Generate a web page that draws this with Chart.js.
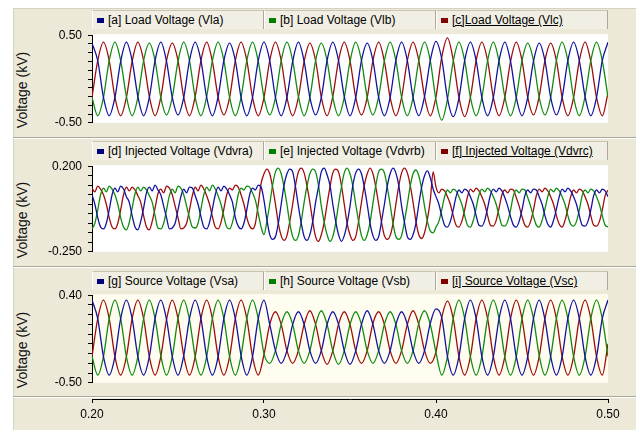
<!DOCTYPE html>
<html>
<head>
<meta charset="utf-8">
<script src="https://cdn.jsdelivr.net/npm/chart.js@4.4.1/dist/chart.umd.min.js"></script>
<style>
  body { margin: 0; width: 636px; height: 430px; position: relative; overflow: hidden; background: #fff;
         font-family: "Liberation Sans", Arial, sans-serif; }
  .frame { position: absolute; left: 13px; top: 8px; right: 0; bottom: 0; background: #ece9d8;
           border-top: 1px solid #d6d2c2; border-left: 1px solid #d6d2c2; box-sizing: border-box; }
  .sep { position: absolute; left: 13px; right: 0; height: 1px; background: #aca899; }
  .sep.w { background: #fff; }
  canvas { position: absolute; left: 13px; }
  .hdr { position: absolute; left: 92px; width: 516px; display: flex; }
  .hdr div { flex: 1; box-sizing: border-box; background: #f1efe4; border-top: 1px solid #c9c5b3;
             border-right: 1px solid #aca899; border-left: 1px solid #fff; font-size: 12px; color: #000;
             white-space: nowrap; overflow: hidden; padding-left: 4px; display: flex; align-items: center; }
  .hdr div span.sw { display: inline-block; width: 7px; height: 5px; margin-right: 4px; }
  .hdr div.sel span.tx { text-decoration: underline; }
  .ytitle { position: absolute; left: 21.5px; font-size: 14px; color: #111; white-space: nowrap;
            transform: translate(-50%, -50%) rotate(-90deg); }
</style>
</head>
<body>
<div class="frame"></div>
<div class="sep" style="top:137px"></div><div class="sep w" style="top:138px"></div>
<div class="sep" style="top:266px"></div><div class="sep w" style="top:267px"></div>
<div class="sep" style="top:396px"></div><div class="sep w" style="top:397px"></div>

<div class="hdr" id="hdr1" style="top:10px;height:19px"></div>
<div class="hdr" id="hdr2" style="top:141px;height:19px"></div>
<div class="hdr" id="hdr3" style="top:271px;height:19px"></div>

<div class="ytitle" style="top:90px">Voltage (kV)</div>
<div class="ytitle" style="top:220px">Voltage (kV)</div>
<div class="ytitle" style="top:350px">Voltage (kV)</div>

<canvas id="c1" width="623" height="114" style="top:22px"></canvas>
<canvas id="c2" width="623" height="112" style="top:153px"></canvas>
<canvas id="c3" width="623" height="114" style="top:282px"></canvas>
<canvas id="cx" width="623" height="36" style="top:394px"></canvas>

<script>
// sample instants: 60 deg steps (load / source), 30 deg steps (injected), 50 Hz
const times60 = Array.from({ length: 91 }, (_, i) => 0.2 + i * 0.02 / 6);
const times30 = Array.from({ length: 181 }, (_, i) => 0.2 + i * 0.02 / 12);

const loadLabels = ['[a] Load Voltage (Vla)', '[b] Load Voltage (Vlb)', '[c]Load Voltage (Vlc)'];
const injLabels = ['[d] Injected Voltage (Vdvra)', '[e] Injected Voltage (Vdvrb)', '[f] Injected Voltage (Vdvrc)'];
const srcLabels = ['[g] Source Voltage (Vsa)', '[h] Source Voltage (Vsb)', '[i] Source Voltage (Vsc)'];

const timeTicks = [0.20, 0.30, 0.40, 0.50];

// load voltage (kV)
const loadVa = [
  0.41, 0.21, -0.21, -0.42, -0.21, 0.20,  0.42, 0.21, -0.20, -0.42, -0.21, 0.21,
  0.42, 0.20, -0.21, -0.41, -0.21, 0.21,  0.42, 0.21, -0.21, -0.42, -0.20, 0.21,
  0.41, 0.21, -0.21, -0.42, -0.21, 0.21,  0.42, 0.21, -0.21, -0.42, -0.21, 0.20,
  0.42, 0.20, -0.21, -0.41, -0.21, 0.21,  0.42, 0.21, -0.20, -0.42, -0.21, 0.21,
  0.41, 0.21, -0.21, -0.42, -0.21, 0.21,  0.42, 0.21, -0.21, -0.42, -0.20, 0.21,
  0.43, 0.23, -0.22, -0.43, -0.22, 0.21,  0.42, 0.21, -0.21, -0.42, -0.21, 0.21,
  0.42, 0.20, -0.21, -0.42, -0.21, 0.20,  0.41, 0.21, -0.21, -0.41, -0.21, 0.21,
  0.42, 0.21, -0.20, -0.42, -0.21, 0.21,  0.42
];
const loadVb = [
  -0.21, -0.42, -0.21, 0.21, 0.42, 0.21,  -0.20, -0.42, -0.21, 0.21, 0.41, 0.21,
  -0.21, -0.41, -0.21, 0.20, 0.42, 0.21,  -0.21, -0.42, -0.20, 0.21, 0.42, 0.21,
  -0.21, -0.42, -0.21, 0.21, 0.42, 0.20,  -0.21, -0.41, -0.21, 0.21, 0.42, 0.21,
  -0.20, -0.42, -0.21, 0.21, 0.41, 0.21,  -0.21, -0.42, -0.21, 0.20, 0.42, 0.21,
  -0.21, -0.41, -0.20, 0.21, 0.42, 0.21,  -0.21, -0.42, -0.21, 0.21, 0.42, 0.21,
  -0.24, -0.47, -0.23, 0.20, 0.42, 0.21,  -0.21, -0.42, -0.21, 0.21, 0.42, 0.20,
  -0.20, -0.42, -0.21, 0.21, 0.41, 0.21,  -0.21, -0.41, -0.21, 0.21, 0.42, 0.21,
  -0.21, -0.42, -0.20, 0.21, 0.42, 0.21,  -0.21
];
const loadVc = [
  -0.21, 0.21, 0.42, 0.21, -0.21, -0.42,  -0.21, 0.20, 0.42, 0.21, -0.20, -0.42,
  -0.21, 0.21, 0.41, 0.21, -0.21, -0.42,  -0.20, 0.21, 0.42, 0.20, -0.21, -0.41,
  -0.21, 0.21, 0.42, 0.21, -0.21, -0.42,  -0.21, 0.21, 0.42, 0.21, -0.21, -0.42,
  -0.21, 0.20, 0.41, 0.21, -0.21, -0.42,  -0.20, 0.21, 0.42, 0.21, -0.21, -0.41,
  -0.21, 0.21, 0.42, 0.20, -0.21, -0.42,  -0.21, 0.21, 0.42, 0.21, -0.20, -0.42,
  -0.20, 0.25, 0.47, 0.22, -0.21, -0.43,  -0.21, 0.21, 0.42, 0.21, -0.21, -0.42,
  -0.21, 0.20, 0.42, 0.21, -0.21, -0.41,  -0.20, 0.21, 0.41, 0.21, -0.21, -0.42,
  -0.21, 0.21, 0.42, 0.20, -0.21, -0.42,  -0.16
];

// injected voltage (kV)
const injVa = [
  0.05, 0.00, -0.07, -0.12, -0.13, -0.10, -0.03, 0.05, 0.085, 0.065, 0.095, 0.08,
  0.04, 0.01, -0.06, -0.12, -0.135, -0.09, -0.02, 0.06, 0.09, 0.07, 0.10, 0.075,
  0.05, -0.01, -0.07, -0.13, -0.125, -0.10, -0.03, 0.04, 0.08, 0.06, 0.09, 0.085,
  0.045, 0.00, -0.065, -0.12, -0.13, -0.095, -0.025, 0.05, 0.09, 0.07, 0.095, 0.08,
  0.05, 0.01, -0.07, -0.115, -0.13, -0.10, -0.03, 0.05, 0.085, 0.075, 0.10, 0.09,
  0.02, -0.08, -0.16, -0.185, -0.17, -0.10, 0.00, 0.10, 0.16, 0.185, 0.17, 0.09,
  -0.01, -0.10, -0.17, -0.19, -0.16, -0.09, 0.01, 0.09, 0.17, 0.19, 0.155, 0.10,
  0.00, -0.09, -0.16, -0.195, -0.165, -0.10, -0.01, 0.10, 0.165, 0.185, 0.16, 0.09,
  0.00, -0.10, -0.165, -0.19, -0.17, -0.09, 0.00, 0.095, 0.16, 0.19, 0.165, 0.10,
  -0.01, -0.095, -0.17, -0.185, -0.16, -0.10, 0.00, 0.09, 0.15, 0.175, 0.14, 0.08,
  0.04, 0.00, -0.06, -0.11, -0.12, -0.09, -0.03, 0.04, 0.075, 0.06, 0.08, 0.07,
  0.04, 0.00, -0.06, -0.11, -0.115, -0.085, -0.02, 0.05, 0.08, 0.065, 0.085, 0.07,
  0.035, -0.01, -0.065, -0.11, -0.12, -0.09, -0.03, 0.045, 0.075, 0.06, 0.08, 0.075,
  0.04, 0.00, -0.06, -0.105, -0.12, -0.085, -0.025, 0.04, 0.08, 0.065, 0.085, 0.07,
  0.04, 0.00, -0.06, -0.11, -0.115, -0.09, -0.03, 0.045, 0.075, 0.06, 0.08, 0.07,
  0.04
];
const injVb = [
  -0.13, -0.10, -0.03, 0.05, 0.085, 0.065, 0.095, 0.08, 0.05, 0.00, -0.07, -0.12,
  -0.135, -0.095, -0.02, 0.055, 0.09, 0.07, 0.09, 0.075, 0.045, 0.01, -0.06, -0.125,
  -0.13, -0.10, -0.03, 0.045, 0.08, 0.06, 0.095, 0.085, 0.05, -0.01, -0.07, -0.12,
  -0.125, -0.10, -0.025, 0.05, 0.09, 0.07, 0.10, 0.08, 0.045, 0.00, -0.065, -0.12,
  -0.13, -0.095, -0.03, 0.05, 0.085, 0.075, 0.095, 0.09, 0.06, 0.02, -0.05, -0.12,
  -0.16, -0.09, 0.00, 0.10, 0.17, 0.19, 0.16, 0.09, 0.00, -0.10, -0.17, -0.19,
  -0.165, -0.09, 0.01, 0.095, 0.16, 0.185, 0.17, 0.10, -0.01, -0.095, -0.16, -0.195,
  -0.17, -0.10, 0.00, 0.09, 0.165, 0.19, 0.16, 0.095, 0.00, -0.09, -0.165, -0.19,
  -0.16, -0.095, 0.005, 0.10, 0.17, 0.185, 0.165, 0.09, 0.00, -0.10, -0.17, -0.185,
  -0.165, -0.09, 0.00, 0.095, 0.16, 0.18, 0.15, 0.08, -0.01, -0.09, -0.14, -0.15,
  -0.12, -0.09, -0.03, 0.04, 0.075, 0.06, 0.08, 0.07, 0.04, 0.00, -0.06, -0.11,
  -0.12, -0.085, -0.02, 0.05, 0.08, 0.065, 0.085, 0.07, 0.04, 0.00, -0.06, -0.11,
  -0.115, -0.09, -0.03, 0.045, 0.075, 0.06, 0.08, 0.075, 0.035, -0.01, -0.065, -0.11,
  -0.12, -0.085, -0.025, 0.04, 0.08, 0.065, 0.085, 0.07, 0.04, 0.00, -0.06, -0.105,
  -0.115, -0.09, -0.03, 0.045, 0.075, 0.06, 0.08, 0.07, 0.04, 0.00, -0.06, -0.11,
  -0.12
];
const injVc = [
  0.085, 0.065, 0.095, 0.08, 0.05, 0.00, -0.07, -0.12, -0.13, -0.10, -0.03, 0.05,
  0.09, 0.07, 0.09, 0.075, 0.045, 0.01, -0.06, -0.12, -0.135, -0.09, -0.02, 0.055,
  0.08, 0.06, 0.095, 0.085, 0.05, -0.01, -0.07, -0.13, -0.125, -0.10, -0.03, 0.045,
  0.09, 0.07, 0.10, 0.08, 0.045, 0.00, -0.065, -0.12, -0.13, -0.095, -0.025, 0.05,
  0.085, 0.075, 0.10, 0.09, 0.05, 0.00, -0.07, -0.115, -0.13, -0.10, 0.00, 0.11,
  0.16, 0.185, 0.16, 0.09, 0.00, -0.10, -0.165, -0.19, -0.165, -0.09, 0.00, 0.10,
  0.17, 0.19, 0.165, 0.095, 0.01, -0.09, -0.17, -0.195, -0.16, -0.095, 0.00, 0.09,
  0.165, 0.185, 0.17, 0.10, 0.00, -0.10, -0.16, -0.19, -0.17, -0.09, 0.01, 0.10,
  0.16, 0.19, 0.16, 0.09, 0.00, -0.095, -0.165, -0.185, -0.165, -0.10, 0.00, 0.095,
  0.165, 0.19, 0.165, 0.10, 0.01, -0.09, -0.16, -0.18, -0.15, -0.08, 0.02, 0.17,
  0.09, 0.06, 0.08, 0.07, 0.04, 0.00, -0.06, -0.11, -0.12, -0.09, -0.03, 0.04,
  0.08, 0.065, 0.085, 0.07, 0.04, 0.00, -0.06, -0.11, -0.115, -0.085, -0.02, 0.05,
  0.075, 0.06, 0.08, 0.075, 0.035, -0.01, -0.065, -0.11, -0.12, -0.09, -0.03, 0.045,
  0.08, 0.065, 0.085, 0.07, 0.04, 0.00, -0.06, -0.105, -0.12, -0.085, -0.025, 0.04,
  0.075, 0.06, 0.08, 0.07, 0.04, 0.00, -0.06, -0.11, -0.115, -0.09, -0.03, 0.045,
  0.075
];

// source voltage (kV)
const srcVa = [
  0.35, 0.16, -0.23, -0.42, -0.23, 0.16,  0.35, 0.16, -0.23, -0.42, -0.23, 0.16,
  0.35, 0.15, -0.23, -0.42, -0.22, 0.16,  0.35, 0.16, -0.23, -0.42, -0.23, 0.16,
  0.35, 0.16, -0.22, -0.42, -0.23, 0.16,  0.35, 0.10, -0.17, -0.30, -0.17, 0.10,
  0.23, 0.10, -0.17, -0.30, -0.17, 0.10,  0.23, 0.10, -0.17, -0.31, -0.17, 0.10,
  0.24, 0.10, -0.17, -0.30, -0.17, 0.10,  0.23, 0.10, -0.17, -0.30, -0.17, 0.11,
  0.26, 0.17, -0.23, -0.42, -0.23, 0.16,  0.35, 0.16, -0.23, -0.42, -0.23, 0.16,
  0.35, 0.16, -0.23, -0.42, -0.23, 0.16,  0.35, 0.15, -0.23, -0.42, -0.23, 0.16,
  0.35, 0.16, -0.23, -0.42, -0.23, 0.16,  0.35
];
const srcVb = [
  -0.23, -0.42, -0.23, 0.16, 0.35, 0.16,  -0.23, -0.42, -0.23, 0.16, 0.35, 0.16,
  -0.22, -0.42, -0.23, 0.16, 0.35, 0.15,  -0.23, -0.42, -0.23, 0.16, 0.35, 0.16,
  -0.23, -0.42, -0.22, 0.16, 0.35, 0.16,  -0.20, -0.30, -0.17, 0.10, 0.23, 0.10,
  -0.17, -0.30, -0.17, 0.10, 0.24, 0.10,  -0.17, -0.31, -0.17, 0.10, 0.23, 0.10,
  -0.17, -0.30, -0.17, 0.10, 0.23, 0.10,  -0.17, -0.30, -0.17, 0.11, 0.24, 0.10,
  -0.19, -0.42, -0.23, 0.16, 0.35, 0.16,  -0.23, -0.42, -0.23, 0.16, 0.35, 0.16,
  -0.23, -0.42, -0.23, 0.16, 0.35, 0.16,  -0.22, -0.42, -0.23, 0.16, 0.35, 0.16,
  -0.23, -0.42, -0.23, 0.16, 0.35, 0.16,  -0.23
];
const srcVc = [
  -0.23, 0.16, 0.35, 0.16, -0.23, -0.42,  -0.23, 0.16, 0.35, 0.16, -0.23, -0.42,
  -0.23, 0.15, 0.35, 0.16, -0.22, -0.42,  -0.23, 0.16, 0.35, 0.16, -0.23, -0.42,
  -0.23, 0.16, 0.35, 0.16, -0.23, -0.42,  -0.21, 0.10, 0.23, 0.10, -0.17, -0.30,
  -0.17, 0.10, 0.24, 0.10, -0.17, -0.31,  -0.17, 0.10, 0.23, 0.10, -0.17, -0.30,
  -0.17, 0.11, 0.23, 0.10, -0.17, -0.30,  -0.17, 0.10, 0.24, 0.10, -0.17, -0.30,
  -0.18, 0.17, 0.34, 0.16, -0.23, -0.42,  -0.23, 0.16, 0.35, 0.16, -0.23, -0.42,
  -0.23, 0.16, 0.35, 0.16, -0.23, -0.42,  -0.23, 0.16, 0.35, 0.16, -0.23, -0.42,
  -0.23, 0.16, 0.35, 0.16, -0.23, -0.42,  -0.10
];

const lineColors = ['#1212a0', '#0f8c0f', '#a00c0c'];
const swatchColors = ['#000080', '#008000', '#800000'];
const font = { family: 'Liberation Sans', size: 12 };

function buildHeader(id, labels) {
  const el = document.getElementById(id);
  labels.forEach((txt, k) => {
    const cell = document.createElement('div');
    if (k === 2) cell.className = 'sel';
    cell.innerHTML = '<span class="sw" style="background:' + swatchColors[k] + '"></span><span class="tx"></span>';
    cell.querySelector('.tx').textContent = txt;
    el.appendChild(cell);
  });
}
buildHeader('hdr1', loadLabels);
buildHeader('hdr2', injLabels);
buildHeader('hdr3', srcLabels);

const plotBg = {
  id: 'plotBg',
  beforeDraw(chart, args, opts) {
    const { ctx, chartArea: a } = chart;
    ctx.save();
    ctx.fillStyle = opts.color;
    ctx.fillRect(a.left, a.top - 1, a.right - a.left, a.bottom - a.top + 1);
    ctx.restore();
  }
};

function series(times, labels, values) {
  return values.map((vals, k) => ({
    label: labels[k],
    data: times.map((t, i) => ({ x: t, y: vals[i] })),
    borderColor: lineColors[k],
    borderWidth: 1.3,
    pointRadius: 0,
    cubicInterpolationMode: 'monotone',
    fill: false
  }));
}

function panel(id, datasets, yMin, yMax, step, digits, bg) {
  return new Chart(document.getElementById(id), {
    type: 'line',
    data: { datasets },
    plugins: [plotBg],
    options: {
      responsive: false,
      animation: false,
      devicePixelRatio: 1,
      layout: { padding: { top: 8, bottom: 8, left: 0, right: 28 } },
      plugins: { legend: { display: false }, tooltip: { enabled: false }, plotBg: { color: bg } },
      scales: {
        x: { type: 'linear', display: false, min: 0.2, max: 0.5 },
        y: {
          min: yMin, max: yMax,
          afterFit: s => { s.width = 79; },
          ticks: {
            stepSize: step, autoSkip: false, padding: 6, color: '#000', font,
            callback: (v, i, t) => (i === 0 || i === t.length - 1) ? v.toFixed(digits) : ''
          },
          grid: { drawOnChartArea: false, drawTicks: true, tickLength: 4, color: '#000' },
          border: { display: true, color: '#000' }
        }
      }
    }
  });
}

panel('c1', series(times60, loadLabels, [loadVa, loadVb, loadVc]), -0.5, 0.5, 0.1, 2, '#ffffff');
panel('c2', series(times30, injLabels, [injVa, injVb, injVc]), -0.25, 0.2, 0.05, 3, '#ffffff');
panel('c3', series(times60, srcLabels, [srcVa, srcVb, srcVc]), -0.5, 0.4, 0.1, 2, '#fffcf0');

// shared time axis
new Chart(document.getElementById('cx'), {
  type: 'line',
  data: { datasets: [] },
  options: {
    responsive: false,
    animation: false,
    devicePixelRatio: 1,
    layout: { padding: { top: 0, bottom: 0, left: 79, right: 28 } },
    plugins: { legend: { display: false }, tooltip: { enabled: false } },
    scales: {
      x: {
        type: 'linear', min: timeTicks[0], max: timeTicks[timeTicks.length - 1],
        afterFit: s => { s.height = 31; },
        afterBuildTicks: s => { s.ticks = timeTicks.map(v => ({ value: v })); },
        ticks: { autoSkip: false, padding: 4, color: '#000', font, callback: v => v.toFixed(2) },
        grid: { drawOnChartArea: false, drawTicks: true, tickLength: 4, color: '#000' },
        border: { display: true, color: '#000' }
      },
      y: { display: false, min: 0, max: 1 }
    }
  }
});
</script>
</body>
</html>
